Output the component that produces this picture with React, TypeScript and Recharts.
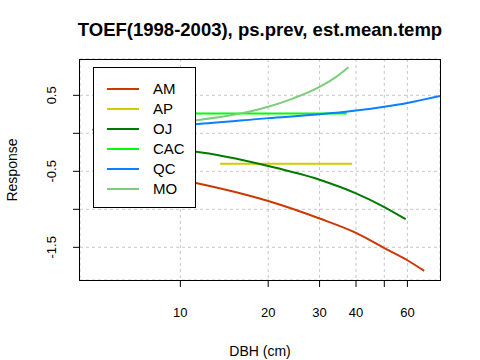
import { LineChart, Line, XAxis, YAxis, CartesianGrid } from 'recharts';

// DBH (cm) and response for each species curve
const amDbh = [7, 10, 20, 30, 40, 50, 60, 68.5];
const amResp = [-0.5, -0.61, -0.89, -1.12, -1.31, -1.51, -1.67, -1.81];
const apDbh = [13.7, 38.8];
const apResp = [-0.4, -0.4];
const ojDbh = [5.0, 7, 10, 11.2, 20, 30, 40, 50, 59.2];
const ojResp = [0.05, -0.1, -0.22, -0.24, -0.43, -0.61, -0.79, -0.97, -1.13];
const cacDbh = [9, 37.2];
const cacResp = [0.26, 0.26];
const qcDbh = [8, 11.2, 20, 30, 40, 50, 60, 77.6];
const qcResp = [0.1, 0.12, 0.2, 0.25, 0.3, 0.35, 0.4, 0.49];
const moDbh = [8, 11.2, 16, 20, 24.4, 30, 34.4, 37.7];
const moResp = [0.12, 0.17, 0.26, 0.35, 0.46, 0.61, 0.75, 0.87];

const xTicks = [10, 20, 30, 40, 50, 60];
const yTicks = [-1.5, -1, -0.5, 0, 0.5];
const yLabels = [-1.5, -0.5, 0.5];

const zip = (xs: number[], ys: number[]) => xs.map((x, i) => ({ x, y: ys[i] }));

const series = [
  { name: 'AM', color: '#CD3700', data: zip(amDbh, amResp) },
  { name: 'AP', color: '#CDCD00', data: zip(apDbh, apResp) },
  { name: 'OJ', color: '#007A00', data: zip(ojDbh, ojResp) },
  { name: 'CAC', color: '#00FF00', data: zip(cacDbh, cacResp) },
  { name: 'QC', color: '#0A80FF', data: zip(qcDbh, qcResp) },
  { name: 'MO', color: '#7CCD7C', data: zip(moDbh, moResp) },
];

const FONT = '"Liberation Sans", Arial, Helvetica, sans-serif';

const XTick = ({ x, payload }: any) =>
  payload.value === 50 ? null : (
    <text x={x} y={312} textAnchor="middle" dominantBaseline="central" fontSize={13} fontFamily={FONT} fill="#000">
      {payload.value}
    </text>
  );

const YTick = ({ y, payload }: any) =>
  yLabels.includes(payload.value) ? (
    <text x={52} y={y} transform={`rotate(-90, 52, ${y})`} textAnchor="middle" dominantBaseline="central" fontSize={13} fontFamily={FONT} fill="#000">
      {payload.value}
    </text>
  ) : null;

// legend box drawn over the plot, like R's legend()
const LegendBox = () => (
  <div style={{ position: 'absolute', left: 93, top: 67, width: 101, height: 139, background: '#fff', border: '1px solid #000', fontSize: 15 }}>
    {series.map((s, i) => (
      <div key={s.name} style={{ position: 'absolute', top: 12 + i * 20, left: 13, height: 18, display: 'flex', alignItems: 'center' }}>
        <div style={{ width: 32, height: 2, background: s.color }} />
        <span style={{ marginLeft: 14, lineHeight: '18px' }}>{s.name}</span>
      </div>
    ))}
  </div>
);

export default function App() {
  return (
    <div style={{ position: 'absolute', left: 0, top: 0, width: 480, height: 360, background: '#fff', fontFamily: FONT }}>
      <LineChart width={480} height={360} margin={{ top: 59, right: 40, bottom: 50, left: 0 }} style={{ position: 'absolute', left: 0, top: 0 }}>
        <CartesianGrid stroke="#c8c8c8" strokeDasharray="3 3" />
        <XAxis
          dataKey="x"
          type="number"
          scale="log"
          domain={[4.53, 77.6]}
          allowDataOverflow
          ticks={xTicks}
          height={30}
          axisLine={false}
          tickLine={{ stroke: '#000' }}
          tickSize={7}
          tick={<XTick />}
        />
        <YAxis
          type="number"
          domain={[-1.93, 0.978]}
          allowDataOverflow
          ticks={yTicks}
          width={80}
          axisLine={false}
          tickLine={{ stroke: '#000' }}
          tickSize={7}
          tick={<YTick />}
        />
        {series.map(s => (
          <Line
            key={s.name}
            type="monotone"
            data={s.data}
            dataKey="y"
            name={s.name}
            stroke={s.color}
            strokeWidth={2}
            dot={false}
            activeDot={false}
            isAnimationActive={false}
          />
        ))}
      </LineChart>
      <div style={{ position: 'absolute', top: 19, left: 60, width: 400, textAlign: 'center', fontWeight: 'bold', fontSize: 18.5, whiteSpace: 'nowrap' }}>
        TOEF(1998-2003), ps.prev, est.mean.temp
      </div>
      <div style={{ position: 'absolute', top: 343, left: 80, width: 360, textAlign: 'center', fontSize: 14 }}>
        DBH (cm)
      </div>
      <div style={{ position: 'absolute', left: 12, top: 170, transform: 'translate(-50%, -50%) rotate(-90deg)', fontSize: 14, whiteSpace: 'nowrap' }}>
        Response
      </div>
      <LegendBox />
      <div style={{ position: 'absolute', left: 79, top: 59, width: 360, height: 220, border: '1px solid #000', pointerEvents: 'none' }} />
    </div>
  );
}
